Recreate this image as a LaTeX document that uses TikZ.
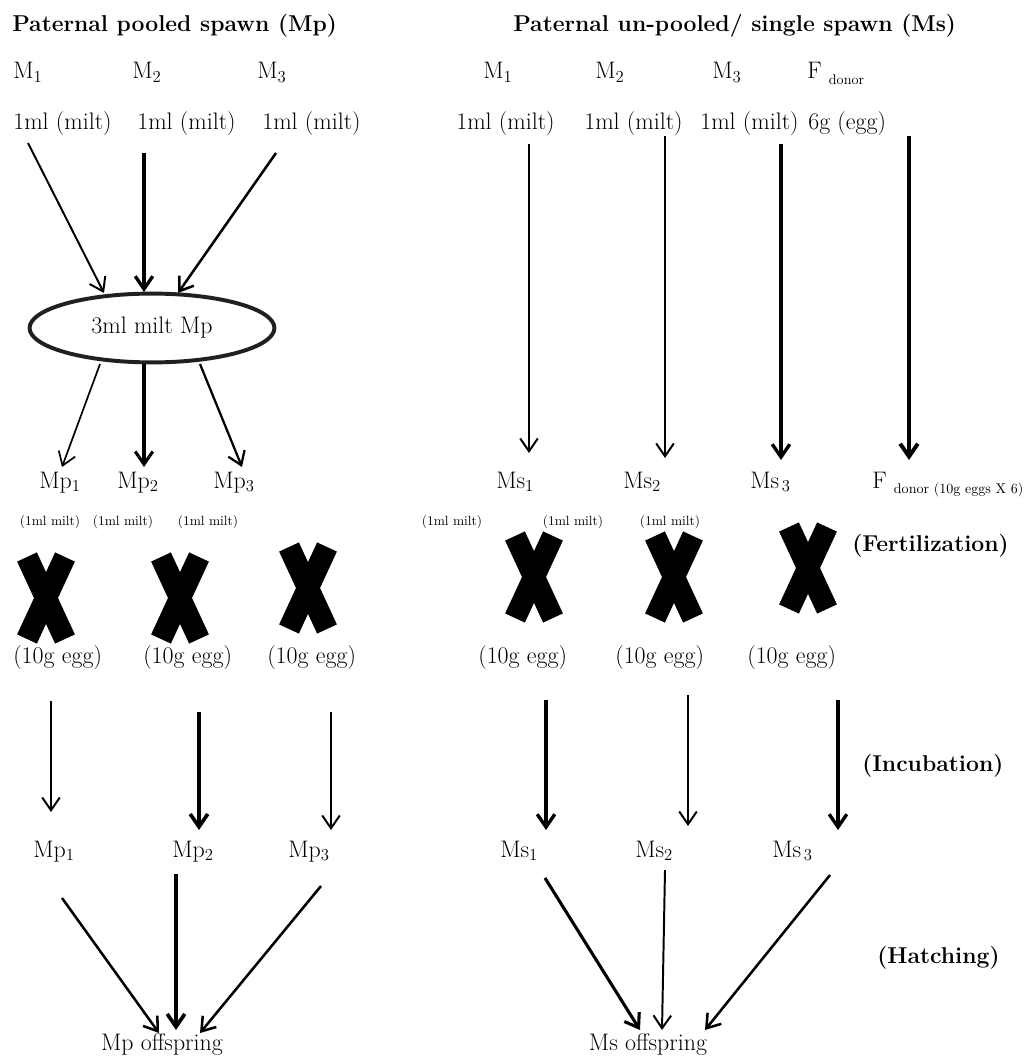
\documentclass[tikz,border=0pt]{standalone}
\usepackage{tikz}
\usetikzlibrary{arrows.meta,shapes.geometric}
\definecolor{RandOval}{RGB}{35,31,32}
\newcommand{\tiefsub}[1]{\raisebox{-0.55ex}{\fontsize{10}{12}\selectfont #1}}
\tikzset{
  txt/.style={inner sep=0pt,anchor=base west,font=\fontsize{17}{20}\selectfont},
  ttl/.style={txt,font=\fontsize{16.3}{19}\selectfont\bfseries},
  klein/.style={inner sep=0pt,anchor=base,font=\fontsize{9.5}{11}\selectfont},
  flow/.style={-{Straight Barb[length=3.2mm,width=4.4mm]}},
  kreuz/.style={line width=15.5pt}
}
\begin{document}
\begin{tikzpicture}[x=0.025cm,y=-0.025cm]
  \useasboundingbox (0,0) rectangle (1024,1057);
  % titles
  \node[ttl] (tpool) at (12,32) {Paternal pooled spawn (Mp)};
  \node[ttl] (tsing) at (513,32) {Paternal un-pooled/ single spawn (Ms)};
  % males and donor
  \node[txt] (pm1) at (13,79) {M\textsubscript{1}};
  \node[txt] (pm2) at (132,79) {M\textsubscript{2}};
  \node[txt] (pm3) at (257,79) {M\textsubscript{3}};
  \node[txt] (sm1) at (483,79) {M\textsubscript{1}};
  \node[txt] (sm2) at (595,79) {M\textsubscript{2}};
  \node[txt] (sm3) at (712,79) {M\textsubscript{3}};
  \node[txt] (fd) at (807,79) {F \tiefsub{donor}};
  \node[txt] (pv1) at (13,130) {1ml (milt)};
  \node[txt] (pv2) at (137,130) {1ml (milt)};
  \node[txt] (pv3) at (262,130) {1ml (milt)};
  \node[txt] (sv1) at (456,130) {1ml (milt)};
  \node[txt] (sv2) at (584,130) {1ml (milt)};
  \node[txt] (sv3) at (700,130) {1ml (milt)};
  \node[txt] (fv) at (808,130) {6g (egg)};
  % pooled milt
  \node[ellipse,draw=RandOval,line width=2.8pt,inner sep=0pt,minimum width=6.12cm,minimum height=1.72cm,font=\fontsize{17}{20}\selectfont] (pool) at (152,328) {3ml milt Mp};
  % fertilization row
  \node[txt] (mp1) at (39,488) {Mp\textsubscript{1}};
  \node[txt] (mp2) at (117,488) {Mp\textsubscript{2}};
  \node[txt] (mp3) at (213,488) {Mp\textsubscript{3}};
  \node[txt] (ms1) at (496,488) {Ms\textsubscript{1}};
  \node[txt] (ms2) at (623,488) {Ms\textsubscript{2}};
  \node[txt] (ms3) at (750,488) {Ms\textsubscript{\,3}};
  \node[txt] (fe) at (872,488) {F \tiefsub{donor (10g eggs X 6)}};
  \foreach \x in {50,123,208,452,573,670}
    \node[klein] at (\x,525) {(1ml milt)};
  \node[ttl] (lfert) at (852,551) {(Fertilization)};
  \foreach \x/\y in {46/598,180/598,308/588,534/577,674/577,808/568}{
    \draw[kreuz] (\x-19,\y-41) -- (\x+19,\y+41);
    \draw[kreuz] (\x+19,\y-41) -- (\x-19,\y+41);
  }
  \foreach \x/\n in {13/pe1,143/pe2,267/pe3,478/se1,615/se2,747/se3}
    \node[txt] (\n) at (\x,663) {(10g egg)};
  % incubation and hatching
  \node[ttl] (linc) at (862,771) {(Incubation)};
  \node[txt] (lp1) at (33,857) {Mp\textsubscript{1}};
  \node[txt] (lp2) at (172,857) {Mp\textsubscript{2}};
  \node[txt] (lp3) at (288,857) {Mp\textsubscript{3}};
  \node[txt] (ls1) at (500,857) {Ms\textsubscript{1}};
  \node[txt] (ls2) at (635,857) {Ms\textsubscript{2}};
  \node[txt] (ls3) at (772,857) {Ms\textsubscript{\,3}};
  \node[ttl] (lhat) at (877,963) {(Hatching)};
  \node[txt,anchor=base] (mpo) at (162,1050) {Mp offspring};
  \node[txt,anchor=base] (mso) at (648,1050) {Ms offspring};
  % arrows
  \foreach \n/\sx/\sy/\ex/\ey/\w in {
      a1/28/143/104/293/1.4pt, a2/144/153/144/292/2.4pt, a3/276/153/178/293/1.8pt,
      b1/100/364/62/467/1.2pt, b2/144/364/144/467/2.2pt, b3/200/364/242/467/1.6pt,
      c1/529/144/529/453/1.4pt, c2/665/136/665/458/1.4pt, c3/781/144/781/460/2.4pt, c4/909/136/909/460/2.8pt,
      d1/51/701/51/812/1.4pt, d2/199/712/199/830/2.6pt, d3/331/712/331/830/1.4pt,
      d4/546/700/546/830/2.4pt, d5/688/695/688/826/1.4pt, d6/838/700/838/830/2.4pt,
      e1/62/898/159/1033/1.8pt, e2/176/874/176/1030/2.6pt, e3/321/886/200/1033/1.8pt,
      e4/545/878/640/1030/2.2pt, e5/665/870/662/1030/1.4pt, e6/830/875/705/1030/1.8pt}{
    \coordinate (\n s) at (\sx,\sy);
    \coordinate (\n e) at (\ex,\ey);
    \draw[flow,line width=\w] (\n s) -- (\n e);
  }
\end{tikzpicture}
\end{document}
